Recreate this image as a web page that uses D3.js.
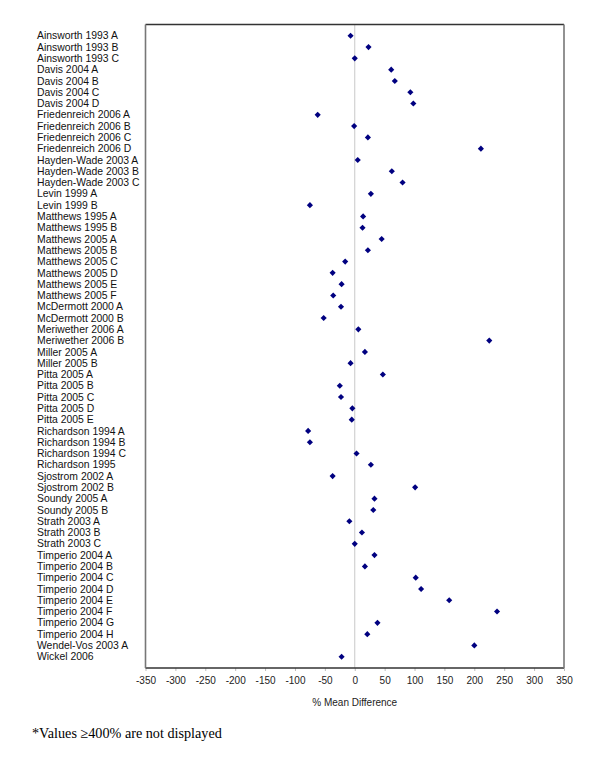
<!DOCTYPE html>
<html>
<head>
<meta charset="utf-8">
<script src="https://cdn.jsdelivr.net/npm/d3@7"></script>
<style>
  body { margin: 0; background: #fff; }
  svg { display: block; }
</style>
</head>
<body>
<svg id="chart" width="600" height="766"></svg>
<script>
const studies = [
  "Ainsworth 1993 A","Ainsworth 1993 B","Ainsworth 1993 C",
  "Davis 2004 A","Davis 2004 B","Davis 2004 C","Davis 2004 D",
  "Friedenreich 2006 A","Friedenreich 2006 B","Friedenreich 2006 C","Friedenreich 2006 D",
  "Hayden-Wade 2003 A","Hayden-Wade 2003 B","Hayden-Wade 2003 C",
  "Levin 1999 A","Levin 1999 B",
  "Matthews 1995 A","Matthews 1995 B",
  "Matthews 2005 A","Matthews 2005 B","Matthews 2005 C","Matthews 2005 D","Matthews 2005 E","Matthews 2005 F",
  "McDermott 2000 A","McDermott 2000 B",
  "Meriwether 2006 A","Meriwether 2006 B",
  "Miller 2005 A","Miller 2005 B",
  "Pitta 2005 A","Pitta 2005 B","Pitta 2005 C","Pitta 2005 D","Pitta 2005 E",
  "Richardson 1994 A","Richardson 1994 B","Richardson 1994 C","Richardson 1995",
  "Sjostrom 2002 A","Sjostrom 2002 B",
  "Soundy 2005 A","Soundy 2005 B",
  "Strath 2003 A","Strath 2003 B","Strath 2003 C",
  "Timperio 2004 A","Timperio 2004 B","Timperio 2004 C","Timperio 2004 D",
  "Timperio 2004 E","Timperio 2004 F","Timperio 2004 G","Timperio 2004 H",
  "Wendel-Vos 2003 A","Wickel 2006"
];
const meanDiff = [
  -7, 23, 0,
  61, 67, 93, 98,
  -62, -1, 22, 211,
  5, 62, 80,
  27, -75,
  14, 13,
  45, 22, -16, -37, -22, -36,
  -23, -52,
  6, 225,
  17, -7,
  47, -25, -23, -4, -5,
  -78, -75, 3, 27,
  -37, 101,
  33, 31,
  -9, 12, 0,
  33, 17, 102, 111,
  158, 238, 38, 21,
  200, -22
];
const xTicks = [-350,-300,-250,-200,-150,-100,-50,0,50,100,150,200,250,300,350];

const svg = d3.select("#chart");
const pLeft = 145.5, pRight = 564, pTop = 24.5, pBottom = 668;

const x = d3.scaleLinear().domain([-350, 350]).range([pLeft, pRight]);
const y = d3.scalePoint().domain(studies).range([pTop, pBottom]).padding(1);

// zero line
svg.append("line")
  .attr("x1", x(0)).attr("x2", x(0))
  .attr("y1", pTop).attr("y2", pBottom)
  .attr("stroke", "#c8c8c8").attr("stroke-width", 1);

// axis
const axis = d3.axisBottom(x).tickValues(xTicks).tickSize(3).tickPadding(6).tickFormat(d => String(d));
const gx = svg.append("g").attr("transform", `translate(0,${pBottom})`).call(axis);
gx.select(".domain").remove();
gx.selectAll(".tick line").attr("stroke", "#bbb");
gx.selectAll(".tick text")
  .attr("font-family", "'Liberation Sans', Arial, sans-serif")
  .attr("font-size", "10px").attr("fill", "#222");

// frame
svg.append("line").attr("x1", pLeft).attr("x2", pRight).attr("y1", pTop).attr("y2", pTop)
  .attr("stroke", "#333").attr("stroke-width", 1.3);
svg.append("line").attr("x1", pLeft).attr("x2", pRight).attr("y1", pBottom).attr("y2", pBottom)
  .attr("stroke", "#333").attr("stroke-width", 1.3);
svg.append("line").attr("x1", pLeft).attr("x2", pLeft).attr("y1", pTop).attr("y2", pBottom)
  .attr("stroke", "#777").attr("stroke-width", 1.6);
svg.append("line").attr("x1", pRight).attr("x2", pRight).attr("y1", pTop).attr("y2", pBottom)
  .attr("stroke", "#777").attr("stroke-width", 1.6);

// category labels
svg.append("g").selectAll("text").data(studies).join("text")
  .attr("x", 37)
  .attr("y", d => y(d))
  .attr("dy", "0.35em")
  .attr("font-family", "'Liberation Sans', Arial, sans-serif")
  .attr("font-size", "10.4px")
  .attr("fill", "#111")
  .text(d => d);

// markers
const diamond = d3.symbol().type(d3.symbolDiamond2).size(24);
svg.append("g").selectAll("path").data(meanDiff).join("path")
  .attr("transform", (d, i) => `translate(${x(d)},${y(studies[i])})`)
  .attr("d", diamond)
  .attr("fill", "#000080");

// axis title
svg.append("text")
  .attr("x", x(0)).attr("y", 702).attr("dy", "0.35em")
  .attr("text-anchor", "middle")
  .attr("font-family", "'Liberation Sans', Arial, sans-serif")
  .attr("font-size", "10px").attr("fill", "#222")
  .text("% Mean Difference");

// footnote
svg.append("text")
  .attr("x", 32).attr("y", 733).attr("dy", "0.35em")
  .attr("font-family", "'Liberation Serif', 'Times New Roman', serif")
  .attr("font-size", "14.2px").attr("fill", "#000")
  .text("*Values \u2265400% are not displayed");
</script>
</body>
</html>
